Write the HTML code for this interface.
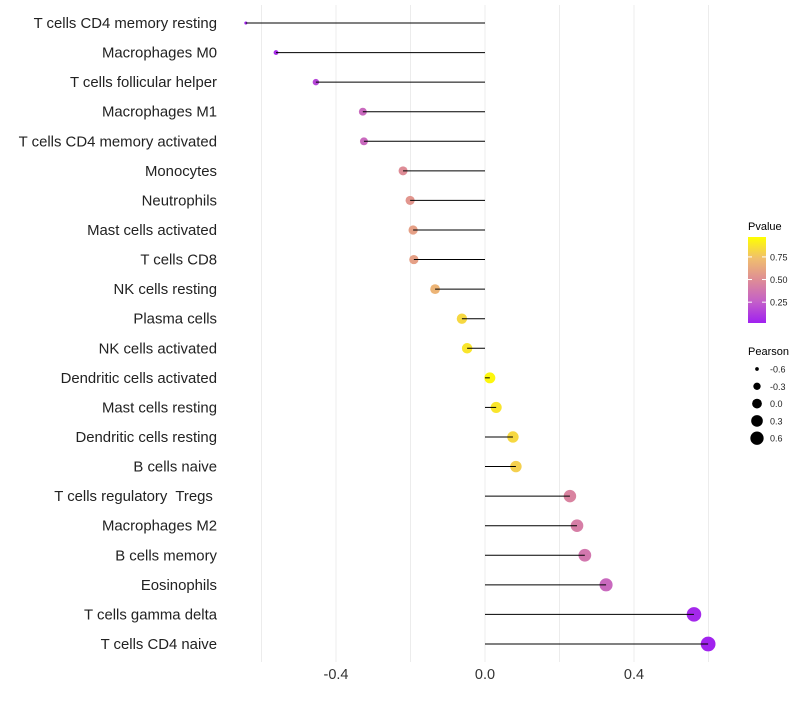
<!DOCTYPE html>
<html><head><meta charset="utf-8"><style>
body{margin:0;background:#fff;font-family:"Liberation Sans",sans-serif}
</style></head><body>
<svg id="c" width="800" height="700" xmlns="http://www.w3.org/2000/svg"></svg>
<script>
const categories=["T cells CD4 memory resting","Macrophages M0","T cells follicular helper","Macrophages M1","T cells CD4 memory activated","Monocytes","Neutrophils","Mast cells activated","T cells CD8","NK cells resting","Plasma cells","NK cells activated","Dendritic cells activated","Mast cells resting","Dendritic cells resting","B cells naive","T cells regulatory  Tregs ","Macrophages M2","B cells memory","Eosinophils","T cells gamma delta","T cells CD4 naive"];
const pearson=[-0.642,-0.561,-0.454,-0.328,-0.325,-0.22,-0.201,-0.193,-0.191,-0.134,-0.062,-0.048,0.013,0.03,0.075,0.083,0.228,0.247,0.268,0.325,0.561,0.599];
const pvalues=[0.01,0.05,0.15,0.3,0.3,0.5,0.55,0.6,0.6,0.7,0.85,0.9,0.97,0.9,0.85,0.82,0.45,0.42,0.38,0.3,0.03,0.01];
const xTicks=[-0.4,0.0,0.4];
const xTickLabels=["-0.4","0.0","0.4"];
const minorTicks=[-0.6,-0.2,0.2,0.6];
const legendPearson=[-0.6,-0.3,0.0,0.3,0.6];
const legendPLabels=["0.75","0.50","0.25"];
const legendPTicks=[0.75,0.5,0.25];

const svg=document.getElementById('c');
const NS="http://www.w3.org/2000/svg";
function mk(t,a,name){const e=document.createElementNS(NS,t);for(const k in a)e.setAttribute(k,a[k]);


svg.appendChild(e);return e;}
const xs=v=>485+v*372.5;
const ys=i=>23+i*29.57;
const rs=v=>Math.sqrt(2.5+(v+0.64)/1.24*52);
function lerp(a,b,t){return a.map((x,i)=>Math.round(x+(b[i]-x)*t));}
const stops=[[0,[160,32,240]],[0.25,[196,96,200]],[0.5,[222,140,150]],[0.75,[240,190,110]],[1,[255,255,0]]];
function col(p){for(let k=0;k<stops.length-1;k++){const a=stops[k],b=stops[k+1];if(p<=b[0]){return `rgb(${lerp(a[1],b[1],(p-a[0])/(b[0]-a[0]))})`;}}return 'rgb(255,255,0)';}
minorTicks.concat(xTicks).forEach(v=>mk('line',{x1:xs(v),x2:xs(v),y1:5,y2:662,stroke:'#ececec','stroke-width':1},'grid-line'));
xTicks.forEach((v,i)=>{const t=mk('text',{x:xs(v),y:679,'text-anchor':'middle','font-size':14.5,fill:'#333'},'x-tick-label');t.textContent=xTickLabels[i];});
categories.forEach((c,i)=>{
const t=mk('text',{x:217,y:ys(i)+5,'text-anchor':'end','font-size':14.9,fill:'#222','xml:space':'preserve',style:'white-space:pre'},'y-category-label');t.textContent=c;
mk('circle',{cx:xs(pearson[i]),cy:ys(i),r:rs(pearson[i]),fill:col(pvalues[i])},'lollipop-point');
mk('line',{x1:xs(0),x2:xs(pearson[i]),y1:ys(i),y2:ys(i),stroke:'#000','stroke-width':1},'lollipop-stem');
});
const ttl=mk('text',{x:748,y:230,'font-size':11,fill:'#000'},'color-legend-title');ttl.textContent="Pvalue";
const defs=mk('defs',{},'defs');
defs.innerHTML='<linearGradient id="g" x1="0" y1="1" x2="0" y2="0">'+stops.map(s=>`<stop offset="${s[0]}" stop-color="rgb(${s[1]})"/>`).join('')+'</linearGradient>';
mk('rect',{x:748,y:237,width:18,height:86,fill:'url(#g)'},'color-bar');
const py=p=>323-(p-0.02)/0.95*86;
legendPTicks.forEach((p,i)=>{mk('line',{x1:748,x2:752,y1:py(p),y2:py(p),stroke:'#fff'},'color-tick');mk('line',{x1:762,x2:766,y1:py(p),y2:py(p),stroke:'#fff'},'color-tick');
const t=mk('text',{x:770,y:py(p)+3.5,'font-size':9,fill:'#222'},'color-legend-label');t.textContent=legendPLabels[i];});
const t2=mk('text',{x:748,y:355,'font-size':11,fill:'#000'},'size-legend-title');t2.textContent="Pearson";
legendPearson.forEach((v,i)=>{const y=369+i*17.3;mk('circle',{cx:757,cy:y,r:rs(v)*0.9,fill:'#000'},'size-legend-key');
const t=mk('text',{x:770,y:y+3.5,'font-size':9,fill:'#222'},'size-legend-label');t.textContent=v.toFixed(1);});
</script>
</body></html>
